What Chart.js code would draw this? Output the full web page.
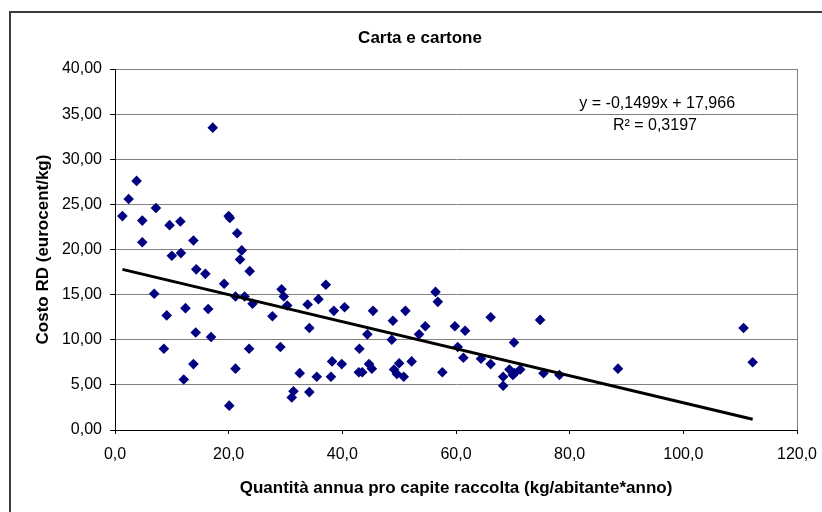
<!DOCTYPE html>
<html>
<head>
<meta charset="utf-8">
<script src="https://cdn.jsdelivr.net/npm/chart.js@4.4.0/dist/chart.umd.min.js"></script>
<style>
  body { margin: 0; background: #fff; }
  #wrap { position: relative; width: 822px; height: 512px; }
  #frame { position: absolute; left: 9px; top: 11px; width: 900px; height: 600px; border: 2px solid #3a3a3a; }
</style>
</head>
<body>
<div id="wrap">
  <canvas id="scatterChart"></canvas>
  <div id="frame"></div>
</div>
<script>
// Quantità annua pro capite raccolta (kg/abitante*anno)
var quantita = [1.3, 2.4, 3.8, 4.8, 4.8, 7.2, 6.9, 9.6, 10.0, 9.1, 8.6, 11.5, 11.6, 12.4, 12.1,
  13.8, 14.3, 14.2, 13.8, 15.9, 16.4, 16.9, 17.2, 19.2, 20.0, 20.2, 21.5, 22.3, 22.0, 21.2,
  22.8, 23.7, 24.2, 23.6, 21.2, 20.1, 27.7, 29.3, 29.7, 30.3, 29.1, 32.5, 31.4, 31.1, 33.9,
  34.2, 34.2, 35.5, 35.8, 37.1, 38.5, 38.2, 38.0, 40.4, 39.9, 43.0, 42.9, 43.5, 44.4, 44.7,
  45.2, 45.4, 48.9, 48.7, 49.1, 49.6, 50.0, 50.8, 51.1, 52.2, 53.5, 54.6, 56.4, 56.8, 57.6,
  59.8, 60.3, 61.6, 61.3, 64.4, 66.1, 66.1, 68.3, 68.3, 69.4, 70.2, 70.3, 70.0, 71.3, 74.8,
  75.4, 78.2, 88.5, 110.6, 112.2];

// Costo RD (eurocent/kg)
var costo = [23.7, 25.6, 27.6, 23.2, 20.8, 24.6, 15.1, 22.7, 19.3, 12.7, 9.0, 23.1, 19.6, 13.5, 5.6,
  21.0, 17.8, 10.8, 7.3, 17.3, 13.4, 10.3, 33.5, 16.2, 23.7, 23.5, 21.8, 19.9, 18.9, 14.8,
  14.8, 17.6, 14.0, 9.0, 6.8, 2.7, 12.6, 15.6, 14.8, 13.8, 9.2, 6.3, 4.3, 3.6, 13.9,
  11.3, 4.2, 5.9, 14.5, 16.1, 13.2, 7.6, 5.9, 13.6, 7.3, 9.0, 6.4, 6.4, 10.6, 7.3,
  6.8, 13.2, 12.1, 10.0, 6.7, 6.2, 7.4, 5.9, 13.2, 7.6, 10.6, 11.5, 15.3, 14.2, 6.4,
  11.5, 9.2, 11.0, 8.0, 7.9, 12.5, 7.3, 5.9, 4.9, 6.7, 9.7, 6.3, 6.1, 6.7, 12.2,
  6.3, 6.1, 6.8, 11.3, 7.5];

// trendline end points
var trendX = [1.3, 112.2];
var trendY = [17.8, 1.2];

var titolo = "Carta e cartone";
var equazione = ["y = -0,1499x + 17,966", "R\u00b2 = 0,3197"];

var punti = quantita.map(function (x, i) { return { x: x, y: costo[i] }; });
var linea = trendX.map(function (x, i) { return { x: x, y: trendY[i] }; });

var testiPlugin = {
    id: 'testi',
    afterDraw: function (chart) {
        var c = chart.ctx;
        var xs = chart.scales.x, ys = chart.scales.y;
        c.save();
        c.fillStyle = '#000';
        c.textAlign = 'center';
        c.textBaseline = 'middle';
        c.font = 'bold 17px "Liberation Sans", Arial, sans-serif';
        c.fillText(titolo, 420, 38);
        c.font = '16px "Liberation Sans", Arial, sans-serif';
        c.fillText(equazione[0], xs.getPixelForValue(95.4), ys.getPixelForValue(36.2));
        c.fillText(equazione[1], xs.getPixelForValue(95.0), ys.getPixelForValue(33.7));
        c.restore();
    }
};

var tickFont = { family: '"Liberation Sans", Arial, sans-serif', size: 16 };
var titleFont = { family: '"Liberation Sans", Arial, sans-serif', size: 17, weight: 'bold' };

var ctx = document.getElementById("scatterChart").getContext("2d");

var chart = new Chart(ctx, {
    type: 'scatter',
    data: {
        datasets: [{
            data: punti,
            pointStyle: 'rectRot',
            pointRadius: 5.3,
            pointHoverRadius: 5.3,
            backgroundColor: '#000080',
            borderColor: '#000080',
            borderWidth: 0,
            order: 2
        }, {
            data: linea,
            showLine: true,
            borderColor: '#000',
            borderWidth: 3,
            pointRadius: 0,
            fill: false,
            order: 1
        }]
    },
    options: {
        responsive: true,
        maintainAspectRatio: false,
        animation: false,
        layout: { autoPadding: false, padding: { top: 69, right: 25, left: 0, bottom: 0 } },
        plugins: {
            legend: { display: false },
            tooltip: { enabled: false }
        },
        scales: {
            x: {
                type: 'linear',
                min: 0,
                max: 120,
                ticks: {
                    stepSize: 20,
                    color: '#000',
                    font: tickFont,
                    padding: 11,
                    maxRotation: 0,
                    callback: function (v) { return v.toFixed(1).replace('.', ','); }
                },
                grid: {
                    color: function (c) { return c.tick && c.tick.value === 120 ? '#808080' : 'rgba(0,0,0,0)'; },
                    tickColor: '#000',
                    tickLength: 4
                },
                border: { color: '#000', width: 1 },
                title: {
                    display: true,
                    text: 'Quantità annua pro capite raccolta (kg/abitante*anno)',
                    color: '#000',
                    font: titleFont,
                    padding: { top: 13, bottom: 13 }
                },
                afterFit: function (s) { s.height = 82; s.paddingLeft = 0; s.paddingRight = 0; }
            },
            y: {
                min: 0,
                max: 40,
                ticks: {
                    stepSize: 5,
                    color: '#000',
                    font: tickFont,
                    padding: 8,
                    callback: function (v) { return v.toFixed(2).replace('.', ','); }
                },
                grid: {
                    color: '#808080',
                    tickColor: '#000',
                    tickLength: 5
                },
                border: { color: '#000', width: 1 },
                title: {
                    display: true,
                    text: 'Costo RD (eurocent/kg)',
                    color: '#000',
                    font: titleFont,
                    padding: { top: 33, bottom: 33 }
                },
                afterFit: function (s) { s.width = 115; }
            }
        }
    },
    plugins: [testiPlugin]
});
</script>
</body>
</html>
